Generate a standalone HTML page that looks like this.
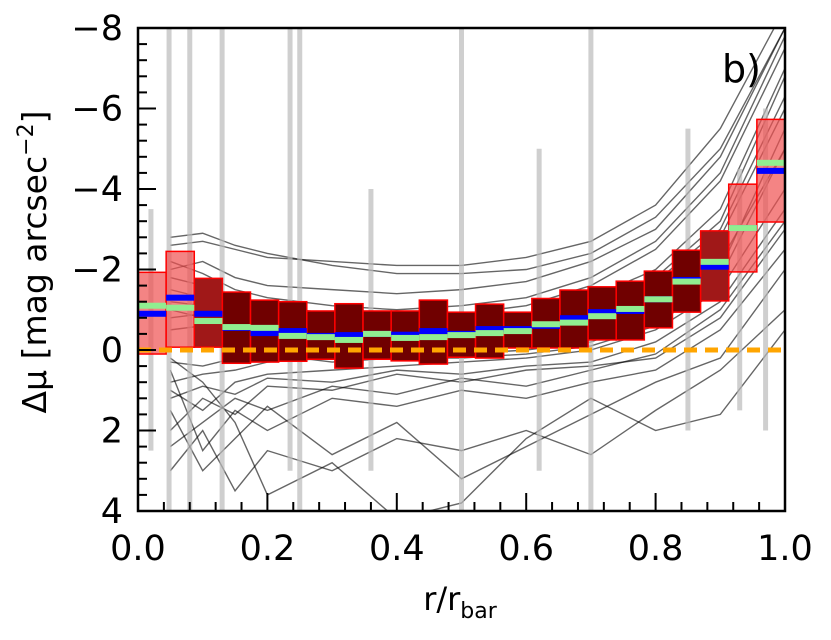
<!DOCTYPE html>
<html><head><meta charset="utf-8"><style>
body{margin:0;background:#fff}
svg text{font-family:"DejaVu Sans","Liberation Sans",sans-serif}
</style></head><body>
<svg id="chart" width="831" height="635" viewBox="0 0 831 635" xmlns="http://www.w3.org/2000/svg">
<g id="lines"></g>
<g id="errs"></g>
<g id="boxes"></g>
<g id="marks"></g>
<g id="axes"></g>
<text x="722" y="82" font-size="38">b)</text>
<text x="460" y="610" font-size="32" text-anchor="middle">r/r<tspan font-size="22" dy="8">bar</tspan></text>
<text transform="translate(46,262) rotate(-90)" font-size="33" text-anchor="middle">Δμ [mag arcsec<tspan font-size="22" dy="-13">−2</tspan><tspan dy="13">]</tspan></text>
</svg>
<script>
const binLo=[0,0.0435,0.087,0.1304,0.1739,0.2174,0.2609,0.3043,0.3478,0.3913,0.4348,0.4783,0.5217,0.5652,0.6087,0.6522,0.6957,0.7391,0.7826,0.8261,0.8696,0.913,0.9565];
const boxTop=[-1.93,-2.45,-1.78,-1.44,-1.24,-1.2,-0.97,-1.15,-0.97,-0.97,-1.24,-0.94,-1.14,-0.94,-1.28,-1.49,-1.57,-1.71,-1.96,-2.48,-2.96,-4.12,-5.73];
const boxBot=[0.1,-0.07,-0.07,0.33,0.3,0.28,0.23,0.45,0.23,0.27,0.35,0.18,0.2,-0.05,-0.05,-0.05,-0.25,-0.25,-0.55,-0.94,-1.22,-1.94,-3.18];
const greenVal=[-1.1,-1.05,-0.72,-0.57,-0.55,-0.35,-0.32,-0.25,-0.4,-0.3,-0.32,-0.37,-0.42,-0.47,-0.64,-0.68,-0.84,-1.02,-1.26,-1.7,-2.19,-3.03,-4.65];
const blueVal=[-0.9,-1.3,-0.9,-0.55,-0.42,-0.47,-0.35,-0.37,-0.4,-0.38,-0.47,-0.4,-0.52,-0.52,-0.6,-0.79,-0.94,-0.97,-1.26,-1.74,-2.07,-3.03,-4.45];
const lightBin=[1,1,0.5,0,0,0,0,0,0,0,0,0,0,0,0,0,0,0,0,0,0.5,1,1];
const profX=[0.05,0.1,0.15,0.2,0.3,0.4,0.5,0.6,0.7,0.8,0.9,1.0];
const prof1=[-2.8,-2.9,-2.6,-2.4,-2.1,-1.9,-1.9,-2.0,-2.4,-3.3,-5.0,-8];
const prof2=[-2.6,-2.7,-2.5,-2.3,-2.2,-2.1,-2.1,-2.3,-2.7,-3.6,-5.5,-8.5];
const prof3=[-2.0,-2.2,-1.8,-1.6,-1.5,-1.4,-1.5,-1.7,-2.2,-3.0,-4.8,-8];
const prof4=[-1.5,-1.3,-1.1,-0.9,-0.7,-0.6,-0.7,-0.9,-1.3,-2.0,-3.5,-7];
const prof5=[-1,-0.8,-0.6,-0.5,-0.4,-0.3,-0.4,-0.6,-0.9,-1.5,-2.8,-6];
const prof6=[-0.5,-0.6,-0.4,-0.3,-0.2,-0.2,-0.3,-0.4,-0.6,-1.1,-2.2,-5];
const prof7=[1,1.5,0.8,0.6,0.5,0.4,0.3,0.2,0,-0.5,-1.5,-4];
const prof8=[2,1.2,1.6,0.9,1.0,0.6,0.8,0.5,0.4,0.2,-0.8,-3];
const prof9=[0.5,2.5,1.5,2.0,1.2,1.4,1.0,1.2,0.8,0.5,-0.5,-2.5];
const prof10=[3,2,3.5,2.5,3,2.2,2.5,2,2.6,1.5,0.5,-1];
const prof11=[1.5,3,2.2,1.4,2.6,1.8,3.2,2.4,1.6,0.8,0.2,-2];
const prof12=[0.2,0.8,1.8,3.6,2.8,4.2,3.8,2.2,1.2,2,1.6,-0.5];
const prof13=[-1.8,-1.6,-1.3,-1.1,-0.9,-0.8,-0.9,-1.1,-1.6,-2.5,-4.2,-7.5];
const prof14=[0.8,0.6,0.5,0.3,0.2,0.1,0.1,0,-0.2,-0.8,-2,-5.5];
const prof15=[-1.2,-1.1,-0.9,-0.8,-0.6,-0.5,-0.6,-0.8,-1.1,-1.8,-3.2,-6.8];
const prof16=[0.3,0.4,0.2,0.1,0.3,0.2,0.2,0.1,-0.1,-0.6,-1.8,-5];
const prof17=[-2.2,-1.9,-1.5,-1.3,-1.1,-1.0,-1.1,-1.3,-1.8,-2.7,-4.4,-7.8];
const prof18=[1.2,0.9,1.1,0.7,0.8,0.5,0.6,0.4,0.3,-0.2,-1.2,-3.5];
const prof19=[-0.8,-0.9,-0.7,-0.6,-0.5,-0.4,-0.5,-0.7,-1.0,-1.7,-3.0,-6.3];
const prof20=[2.4,1.8,1.2,1.5,0.9,1.1,0.7,0.9,0.5,0.1,-1,-3.2];
const errX=[0.048,0.08,0.13,0.235,0.25,0.5,0.7,0.02,0.36,0.62,0.85,0.93,0.97];
const errLo=[-8,-8,-8,-8,-8,-8,-8,-3.5,-4,-5,-5.5,-4.5,-6];
const errHi=[4,4,4,3,4,4,4,2.5,3,3,2,1.5,2];
const xTicks=[0,0.2,0.4,0.6,0.8,1.0];
const xTickLabels=["0.0","0.2","0.4","0.6","0.8","1.0"];
const yTicks=[-8,-6,-4,-2,0,2,4];
const yTickLabels=["−8","−6","−4","−2","0","2","4"];
const X0=138,X1=785,Y0=28,Y1=511,ymin=-8,ymax=4;
const sx=v=>X0+v*(X1-X0);
const sy=v=>Y0+(v-ymin)/(ymax-ymin)*(Y1-Y0);
const NS="http://www.w3.org/2000/svg";
function mk(t,p,a){const e=document.createElementNS(NS,t);for(const k in a)e.setAttribute(k,a[k]);p.appendChild(e);return e;}
const L=document.getElementById('lines'),E=document.getElementById('errs'),B=document.getElementById('boxes'),M=document.getElementById('marks'),A=document.getElementById('axes');
const clip=mk('clipPath',document.getElementById('chart'),{id:'pc'});mk('rect',clip,{x:X0,y:Y0,width:X1-X0,height:Y1-Y0});
[L,E,B,M].forEach(g=>g.setAttribute('clip-path','url(#pc)'));
errX.forEach((x,i)=>{const e=mk('line',E,{x1:sx(x),x2:sx(x),y1:sy(errLo[i]),y2:sy(errHi[i]),stroke:'#bbb','stroke-width':5,opacity:0.7});

});
[prof1,prof2,prof3,prof4,prof5,prof6,prof7,prof8,prof9,prof10,prof11,prof12,prof13,prof14,prof15,prof16,prof17,prof18,prof19,prof20].forEach(p=>{
const e=mk('polyline',L,{points:p.map((v,i)=>sx(profX[i])+','+sy(v)).join(' '),fill:'none',stroke:'#000','stroke-width':1.4,opacity:0.6});

});
const bw=1/23;
binLo.forEach((x,i)=>{
const fill=lightBin[i]==1?'rgba(240,80,80,0.7)':(lightBin[i]==0.5?'#a01818':'#700000');
const r=mk('rect',B,{x:sx(x),y:sy(boxTop[i]),width:sx(x+bw)-sx(x),height:sy(boxBot[i])-sy(boxTop[i]),fill:fill,stroke:'#f00','stroke-width':1.5});


const b=mk('rect',M,{x:sx(x),y:sy(blueVal[i])-3,width:sx(x+bw)-sx(x),height:6,fill:'#0000ff'});


const g=mk('rect',M,{x:sx(x),y:sy(greenVal[i])-3,width:sx(x+bw)-sx(x),height:6,fill:'#90ee90'});

});
const z=mk('line',M,{x1:X0,x2:X1,y1:sy(0),y2:sy(0),stroke:'#ffa500','stroke-width':5,'stroke-dasharray':'13,8'});


const fr=mk('rect',A,{x:X0,y:Y0,width:X1-X0,height:Y1-Y0,fill:'none',stroke:'#000','stroke-width':2.5});


for(let k=0;k<=25;k++){const v=k*0.04,maj=k%5==0;
mk('line',A,{x1:sx(v),x2:sx(v),y1:Y1,y2:Y1-(maj?18:9),stroke:'#000','stroke-width':2});}
for(let k=0;k<=30;k++){const v=-8+k*0.4,maj=k%5==0;
mk('line',A,{x1:X0,x2:X0+(maj?18:9),y1:sy(v),y2:sy(v),stroke:'#000','stroke-width':2});}
xTicks.forEach((v,i)=>{const t=mk('text',A,{x:sx(v),y:560,'font-size':35,'text-anchor':'middle'});t.textContent=xTickLabels[i];

});
yTicks.forEach((v,i)=>{const t=mk('text',A,{x:123,y:sy(v)+12,'font-size':35,'text-anchor':'end'});t.textContent=yTickLabels[i];

});
</script>
</body></html>
